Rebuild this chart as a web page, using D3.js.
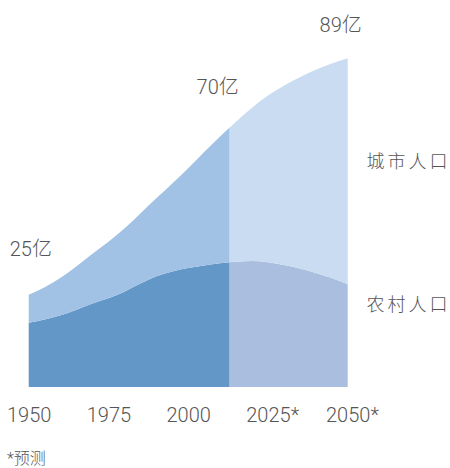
<!DOCTYPE html>
<html>
<head>
<meta charset="utf-8">
<script src="https://cdn.jsdelivr.net/npm/d3@7"></script>
<style>
  html, body { margin: 0; padding: 0; background: #fff; }
  svg { display: block; }
  text { font-family: Roboto, "Noto Sans CJK SC", sans-serif; font-weight: 300; fill: #555; }
</style>
</head>
<body>
<svg id="chart" width="450" height="468"></svg>
<script>
// ---- data (亿人) ----
const years = [1950,1955,1960,1965,1970,1975,1980,1985,1990,1995,2000,2005,2010,2015,2020,2025,2030,2035,2040,2045,2050];
const rural = [17.4,18.3,19.4,20.9,22.6,24.0,25.8,28.0,30.0,31.3,32.2,32.9,33.5,33.9,34.1,33.8,33.0,32.1,30.9,29.5,27.8];
const urban = [7.6,8.7,10.2,11.8,13.5,15.3,17.1,19.0,21.1,23.8,27.0,30.7,34.3,37.9,41.5,45.1,48.6,51.8,55.0,58.1,61.2];
const splitYear = 2013;
const tickYears = [1950,1975,2000,2025,2050];
const tickLabels = ["1950","1975","2000","2025","2050"];
const projectedTicks = [2025,2050];
const seriesNames = ["农村人口","城市人口"];
const valueLabels = [{year:1950, value:25, text:"25亿"},{year:2013, value:70, text:"70亿"},{year:2050, value:89, text:"89亿"}];
const footnote = "*预测";

const svg = d3.select("#chart");
const x = d3.scaleLinear().domain([1950, 2050]).range([28.7, 347.7]);
const y = d3.scaleLinear().domain([0, 89]).range([387, 58.3]);

const rows = years.map((yr, i) => ({year: yr, rural: rural[i], urban: urban[i]}));
const stack = d3.stack().keys(["rural","urban"]);
const layers = stack(rows);

const area = d3.area()
  .x(d => x(d.data.year))
  .y0(d => y(d[0]))
  .y1(d => y(d[1]))
  .curve(d3.curveMonotoneX);

const defs = svg.append("defs");
defs.append("clipPath").attr("id","histClip")
  .append("rect").attr("x",0).attr("y",0).attr("width",x(splitYear)).attr("height",468);
defs.append("clipPath").attr("id","projClip")
  .append("rect").attr("x",x(splitYear)).attr("y",0).attr("width",450 - x(splitYear)).attr("height",468);

const histColors = {rural:"#6297c8", urban:"#a1c2e5"};
const projColors = {rural:"#aabfe0", urban:"#cadcf1"};

svg.append("g").attr("clip-path","url(#histClip)")
  .selectAll("path").data(layers).join("path")
  .attr("d", area).attr("fill", d => histColors[d.key]);
svg.append("g").attr("clip-path","url(#projClip)")
  .selectAll("path").data(layers).join("path")
  .attr("d", area).attr("fill", d => projColors[d.key]);

// axis
const axis = d3.axisBottom(x).tickValues(tickYears)
  .tickFormat((d,i) => tickLabels[i]).tickSize(0);
const ax = svg.append("g").attr("transform", `translate(0,${y(0)})`).call(axis);
ax.select(".domain").remove();
ax.selectAll("text")
  .attr("y", 35).attr("dy", 0)
  .style("font-size","20px").style("font-weight","300").attr("fill","#555")
  .style("font-family", "Roboto, sans-serif");
ax.selectAll(".tick").each(function(d){
  if (projectedTicks.includes(d)) {
    const t = d3.select(this).select("text");
    const len = t.node().getComputedTextLength();
    t.attr("text-anchor","start").attr("x", -len/2);
    t.append("tspan").text("*");
  }
});

// series labels
svg.append("text").attr("x", 366.5).attr("y", 168)
  .style("font-size","18px").style("letter-spacing","3px")
  .text(seriesNames[1]);
svg.append("text").attr("x", 366.5).attr("y", 311)
  .style("font-size","18px").style("letter-spacing","3px")
  .text(seriesNames[0]);

// value labels
svg.append("text").attr("x", x(valueLabels[0].year) - 19).attr("y", y(valueLabels[0].value) - 39)
  .style("font-size","20px").text(valueLabels[0].text);
svg.append("text").attr("x", x(valueLabels[1].year) - 12).attr("y", y(valueLabels[1].value) - 34)
  .attr("text-anchor","middle").style("font-size","20px").text(valueLabels[1].text);
svg.append("text").attr("x", x(valueLabels[2].year) - 7).attr("y", y(valueLabels[2].value) - 26)
  .attr("text-anchor","middle").style("font-size","20px").text(valueLabels[2].text);

// footnote
svg.append("text").attr("x", 7).attr("y", 464)
  .style("font-size","16px").text(footnote);
</script>
</body>
</html>
